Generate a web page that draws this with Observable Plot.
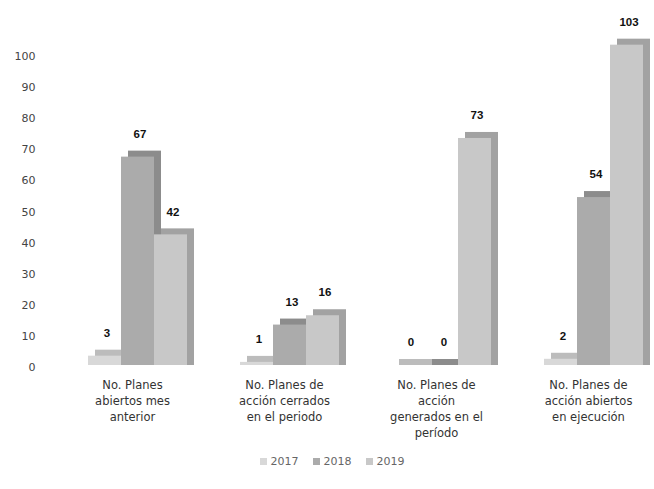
<!DOCTYPE html>
<html>
<head>
<meta charset="utf-8">
<script src="https://cdn.jsdelivr.net/npm/d3@7"></script>
<script src="https://cdn.jsdelivr.net/npm/@observablehq/plot@0.6"></script>
<style>
  html, body { margin: 0; padding: 0; background: #fff; }
  #chart { width: 654px; }
  .legend { display: flex; justify-content: center; gap: 14px; font-family: "DejaVu Sans", sans-serif; font-size: 11px; color: #666; margin-top: 10px; padding-left: 10px; }
  .legend span.item { display: inline-flex; align-items: center; gap: 4px; }
  .legend i { display: inline-block; width: 7px; height: 7px; }
</style>
</head>
<body>
<div id="chart"></div>
<script>
const categories = [
  "No. Planes\nabiertos mes\nanterior",
  "No. Planes de\nacción cerrados\nen el periodo",
  "No. Planes de\nacción\ngenerados en el\nperíodo",
  "No. Planes de\nacción abiertos\nen ejecución"
];
const years = ["2017", "2018", "2019"];
const values2017 = [3, 1, 0, 2];
const values2018 = [67, 13, 0, 54];
const values2019 = [42, 16, 73, 103];
const yTicks = [0, 10, 20, 30, 40, 50, 60, 70, 80, 90, 100];

const frontColors = ["#d8d8d8", "#ababab", "#c8c8c8"];
const sideColors = ["#bcbcbc", "#8c8c8c", "#a2a2a2"];

const series = [values2017, values2018, values2019];
const data = [];
years.forEach((yr, j) => {
  categories.forEach((c, i) => data.push({category: c, year: yr, value: series[j][i]}));
});

const barMarks = [];
years.forEach((yr, j) => {
  const rows = data.filter(d => d.year === yr);
  barMarks.push(Plot.barY(rows, {fx: "category", x: "year", y: "value", fill: sideColors[j], dx: 7, insetTop: -6}));
  barMarks.push(Plot.barY(rows, {fx: "category", x: "year", y: "value", fill: frontColors[j]}));
});

const chart = Plot.plot({
  width: 654,
  height: 445,
  marginLeft: 86,
  marginRight: 10,
  marginTop: 54,
  marginBottom: 80,
  style: {fontFamily: "DejaVu Sans, sans-serif", background: "#fff", color: "#333"},
  fx: {domain: categories, paddingInner: 0.345, paddingOuter: 0, label: null},
  x: {domain: years, padding: 0, axis: null},
  y: {domain: [0, 100], axis: null},
  marks: [
    Plot.axisY({ticks: yTicks, tickSize: 0, tickPadding: 52, label: null, fontSize: 11, fill: "#444", dy: 2}),
    Plot.axisFx({anchor: "bottom", tickSize: 0, tickPadding: 12, label: null, fontSize: 11.5, lineHeight: 1.4, fill: "#333", dx: -5}),
    ...barMarks,
    Plot.text(data, {fx: "category", x: "year", y: "value", text: d => String(d.value), dy: -23, dx: 2, fontWeight: "bold", fontSize: 11.5, fontFamily: "Liberation Sans, sans-serif", fill: "#111"})
  ]
});
document.getElementById("chart").appendChild(chart);

const legend = document.createElement("div");
legend.className = "legend";
years.forEach((yr, j) => {
  const item = document.createElement("span");
  item.className = "item";
  const sw = document.createElement("i");
  sw.style.background = frontColors[j];
  item.appendChild(sw);
  item.appendChild(document.createTextNode(yr));
  legend.appendChild(item);
});
document.getElementById("chart").appendChild(legend);
</script>
</body>
</html>
